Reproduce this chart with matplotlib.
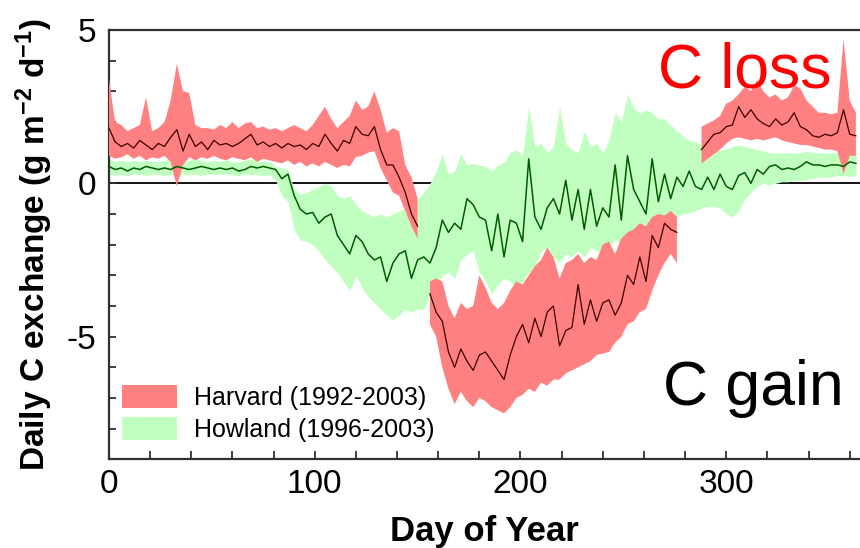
import numpy as np
import matplotlib
matplotlib.use("Agg")
import matplotlib.pyplot as plt
from matplotlib.patches import Patch

plt.rcParams['font.family'] = ['Liberation Sans', 'DejaVu Sans']
plt.rcParams['axes.unicode_minus'] = False
plt.rcParams['mathtext.fontset'] = 'custom'
plt.rcParams['mathtext.rm'] = 'Liberation Sans:bold'
plt.rcParams['mathtext.default'] = 'rm'

# day of year, every 3rd day
days = np.arange(0, 364, 3)
nan = np.nan

# Harvard Forest (1992-2003): mean and spread of daily C exchange
harvard_mean = [
    1.8, 1.35, 1.2, 1.3, 1.15, 1.4, 1.25, 1.1, 1.3, 1.2,
    1.5, 1.75, 1.05, 1.6, 1.2, 1.35, 1.1, 1.4, 1.25, 1.3,
    1.2, 1.3, 1.45, 1.6, 1.25, 1.35, 1.2, 1.3, 1.15, 1.3,
    1.2, 1.25, 1.1, 1.3, 1.2, 1.6, 1.3, 1.05, 1.4, 1.3,
    1.85, 1.6, 1.55, 1.85, 1.1, 0.6, 0.6, 0.2, -0.3, -1.0,
    -1.4, nan, -3.6, -4.2, -4.5, -5.5, -6.0, -5.4, -5.8, -6.1,
    -5.6, -5.5, -5.8, -6.1, -6.4, -5.6, -5.0, -4.6, -5.2, -4.4,
    -5.0, -4.2, -4.0, -5.3, -4.8, -4.7, -3.3, -4.6, -3.8, -4.5,
    -3.9, -3.8, -4.3, -3.9, -3.0, -3.3, -2.4, -3.2, -1.7, -2.1,
    -1.3, -1.5, -1.6, nan, nan, nan, 1.1, 1.35, 1.6, 1.65,
    1.85, 1.9, 2.5, 2.15, 2.4, 2.1, 1.95, 1.85, 2.1, 1.9,
    2.0, 2.3, 1.85, 1.75, 1.55, 1.5, 1.6, 1.55, 1.65, 2.4,
    1.6, 1.55,
]
harvard_hi = [
    3.4, 2.0, 1.9, 1.7, 1.8, 1.9, 2.8, 1.7, 1.8, 2.0,
    2.7, 3.9, 3.0, 2.95, 1.9, 1.8, 1.8, 1.75, 1.9, 1.8,
    2.0, 1.8, 1.95, 2.0, 1.8, 1.85, 1.75, 1.8, 1.7, 1.8,
    1.9, 1.8, 1.7, 1.9, 2.2, 2.5, 2.1, 1.8, 2.0, 2.2,
    2.7, 2.4, 2.5, 3.0, 2.4, 1.65, 1.8, 1.7, 0.6, 0.2,
    -0.5, nan, -3.2, -3.1, -3.2, -4.0, -4.4, -3.9, -4.1, -4.0,
    -3.0, -3.4, -3.9, -4.1, -3.9, -3.5, -3.2, -3.3, -3.0, -2.7,
    -2.5, -2.1, -2.4, -3.1, -2.6, -2.5, -2.3, -2.6, -2.4, -2.5,
    -2.0, -1.9, -2.3, -1.8, -1.6, -1.5, -1.3, -1.4, -1.1, -1.0,
    -1.05, -0.9, -1.1, nan, nan, nan, 1.85, 1.95, 2.05, 2.2,
    2.6, 2.7, 2.9, 3.15, 3.0, 3.37, 3.0, 2.8, 2.9, 2.7,
    2.8, 3.2, 3.1, 2.7, 2.5, 2.3, 2.3, 2.25, 2.3, 4.7,
    2.7, 2.3,
]
harvard_lo = [
    0.9, 0.8, 0.85, 0.95, 0.8, 0.9, 0.75, 0.85, 0.8, 0.9,
    0.7, -0.1, 0.6, 0.85, 0.75, 0.85, 0.8, 0.9, 0.8, 0.75,
    0.85, 0.8, 0.75, 0.85, 0.7, 0.8, 0.75, 0.7, 0.65, 0.75,
    0.6, 0.7, 0.55, 0.65, 0.55, 0.7, 0.6, 0.5, 0.6, 0.55,
    0.85, 0.9, 1.0, 1.05, 0.5, 0.1, -0.3, -0.4, -0.9, -1.4,
    -1.8, nan, -4.6, -5.0, -6.0, -6.7, -7.2, -6.8, -7.1, -7.3,
    -7.0, -7.1, -7.3, -7.4, -7.5, -7.3, -7.0, -6.9, -6.7, -6.8,
    -6.5, -6.6, -6.4, -6.4, -6.2, -6.1, -6.0, -5.9, -5.8, -5.6,
    -5.55, -5.5, -5.2, -5.0, -4.6, -4.5, -4.2, -4.1, -3.5, -3.0,
    -2.6, -2.3, -2.6, nan, nan, nan, 0.65, 0.8, 0.95, 1.1,
    1.3, 1.45, 1.5, 1.45, 1.4, 1.45, 1.4, 1.45, 1.5, 1.4,
    1.35, 1.3, 1.25, 1.25, 1.2, 1.15, 1.1, 1.1, 1.05, 0.3,
    0.9, 0.9,
]

# Howland Forest (1996-2003)
howland_mean = [
    0.55, 0.45, 0.5, 0.4, 0.5, 0.45, 0.55, 0.5, 0.45, 0.5,
    0.45, 0.55, 0.5, 0.45, 0.5, 0.55, 0.5, 0.45, 0.5, 0.45,
    0.5, 0.4, 0.45, 0.55, 0.5, 0.55, 0.5, 0.45, 0.15, 0.3,
    -0.4, -0.85, -1.0, -0.95, -1.3, -1.1, -1.0, -1.7, -2.0, -2.3,
    -1.7, -1.9, -2.3, -2.5, -2.4, -3.2, -2.6, -2.3, -2.2, -3.1,
    -2.5, -2.4, -2.6, -2.1, -1.2, -1.6, -1.3, -1.5, -0.5, -0.7,
    -1.1, -1.2, -2.2, -1.0, -2.4, -1.2, -1.3, -1.9, 0.8, -1.1,
    -1.5, -0.8, -0.5, -1.0, 0.1, -1.2, -0.2, -1.5, -0.2, -1.4,
    -0.8, -1.1, 0.6, -1.2, 0.9, -0.2, -0.6, -1.0, 0.8, -0.6,
    0.3, -0.5, 0.2, -0.1, 0.4, -0.1, -0.2, 0.2, -0.2, 0.3,
    -0.1, -0.2, 0.25, 0.35, 0.0, 0.45, 0.3, 0.55, 0.6, 0.45,
    0.5, 0.45, 0.55, 0.7, 0.6, 0.6, 0.55, 0.6, 0.6, 0.55,
    0.7, 0.65,
]
howland_hi = [
    0.8, 0.7, 0.75, 0.7, 0.75, 0.7, 0.75, 0.72, 0.7, 0.75,
    0.8, 0.85, 0.7, 0.75, 0.8, 0.75, 0.7, 0.75, 0.72, 0.75,
    0.7, 0.7, 0.75, 0.8, 0.75, 0.7, 0.72, 0.55, 0.5, 0.45,
    -0.2, -0.35, -0.3, -0.2, -0.1, 0.0, -0.1, -0.4, -0.5, -0.4,
    -0.7, -0.9, -1.0, -1.1, -1.0, -1.1, -1.0, -0.9, -0.8, -0.7,
    -0.5, -0.3, 0.0, 0.4, 0.95, 0.3, 0.4, 0.98, 0.6, 0.65,
    0.6, 0.55, 0.4, 0.6, 0.7, 1.0, 1.1, 0.9, 2.5, 1.2,
    1.3, 1.0, 1.2, 2.5, 1.3, 1.1, 1.0, 1.7, 1.2, 1.3,
    1.0, 1.4, 2.3, 2.0, 2.9, 2.45, 2.3, 2.4, 2.3, 2.1,
    2.1, 1.9, 1.7, 1.55, 1.4, 1.35, 1.25, 1.2, 1.15, 1.1,
    1.1, 1.2, 1.25, 1.2, 1.15, 1.1, 1.05, 1.0, 0.98, 1.0,
    1.0, 0.98, 1.0, 1.05, 1.0, 1.0, 0.98, 1.0, 1.0, 0.98,
    1.0, 1.0,
]
howland_lo = [
    0.3, 0.25, 0.3, 0.25, 0.3, 0.3, 0.25, 0.3, 0.28, 0.25,
    0.3, 0.2, 0.3, 0.28, 0.3, 0.25, 0.3, 0.28, 0.3, 0.3,
    0.28, 0.25, 0.3, 0.28, 0.3, 0.25, 0.28, 0.1, -0.4, -0.6,
    -1.5, -1.85, -1.9, -2.0, -2.2, -2.5, -2.7, -2.9, -3.2, -3.5,
    -3.0, -3.4, -3.7, -3.9, -4.1, -4.3, -4.45, -4.3, -4.1, -4.2,
    -4.1, -4.1, -3.6, -3.4, -3.0, -2.9, -3.1, -2.5, -2.3, -2.2,
    -2.9, -3.2, -3.6, -3.3, -3.1, -3.2, -3.4, -3.2, -2.9, -2.7,
    -2.2, -2.1, -2.4, -2.6, -2.3, -2.4, -2.2, -2.4, -2.1, -2.2,
    -2.3, -2.1, -1.8, -2.0, -2.2, -1.9, -1.8, -1.7, -1.6, -1.45,
    -1.35, -1.2, -1.1, -1.0, -0.95, -0.9, -0.8, -0.75, -0.76, -0.8,
    -1.0, -1.1, -0.9, -0.5, -0.3, -0.1, 0.0, -0.05, 0.0, 0.05,
    0.05, 0.1, 0.1, 0.12, 0.15, 0.2, 0.2, 0.2, 0.25, 0.25,
    0.22, 0.25,
]

labels = ['Harvard (1992-2003)', 'Howland (1996-2003)']
band_colors = ['#ff8080', '#c0ffc0']
line_colors = ['#3c0000', '#005a00']

fig = plt.figure(figsize=(8.6, 5.48), dpi=100)
ax = fig.add_axes([0.1267, 0.1618, 0.8733, 0.7835])

ax.axhline(0, color='black', lw=1.3, zorder=1)

ax.fill_between(days, howland_lo, howland_hi, color=band_colors[1], lw=0, zorder=2)
ax.fill_between(days, harvard_lo, harvard_hi, color=band_colors[0], lw=0, zorder=3)
ax.plot(days, howland_mean, color=line_colors[1], lw=1.1, zorder=4)
ax.plot(days, harvard_mean, color=line_colors[0], lw=0.9, zorder=5)

ax.set_xlim(0, 365)
ax.set_ylim(-9, 5)
ax.set_xticks([0, 100, 200, 300])
ax.set_xticks(np.arange(0, 366, 20), minor=True)
ax.set_yticks([-5, 0, 5])
ax.set_yticks(np.arange(-8, 5, 1), minor=True)
ax.tick_params(which='both', direction='in', color='#303030', width=1.3,
               labelsize=24, top=False, right=False)
ax.tick_params(axis='y', which='both', length=5, pad=9)
ax.tick_params(axis='x', which='both', length=6, pad=7)

for side in ['top', 'left', 'bottom']:
    ax.spines[side].set_color('#303030')
    ax.spines[side].set_linewidth(1.6)
ax.spines['right'].set_visible(False)

ax.set_xlabel('Day of Year', fontsize=25, fontweight='bold')
ax.set_ylabel(r'Daily C exchange (g m$^{-2}$ d$^{-1}$)', fontsize=24,
              fontweight='bold')
ax.xaxis.set_label_coords(0.5, -0.13)
ax.yaxis.set_label_coords(-0.072, 0.5)

handles = [Patch(facecolor=c, edgecolor='none') for c in band_colors]
ax.legend(handles, labels, loc='lower left', bbox_to_anchor=(0.017, 0.04),
          frameon=False, fontsize=18, borderpad=0, borderaxespad=0,
          handlelength=2.2, handleheight=1.05, handletextpad=0.7,
          labelspacing=0.28)

fig.text(658 / 860, 1 - 88 / 548, 'C loss', color='#ff0000', fontsize=45,
         ha='left', va='baseline')
fig.text(663 / 860, 1 - 405 / 548, 'C gain', color='black', fontsize=45,
         ha='left', va='baseline')

fig.savefig('out.png', dpi=100)
